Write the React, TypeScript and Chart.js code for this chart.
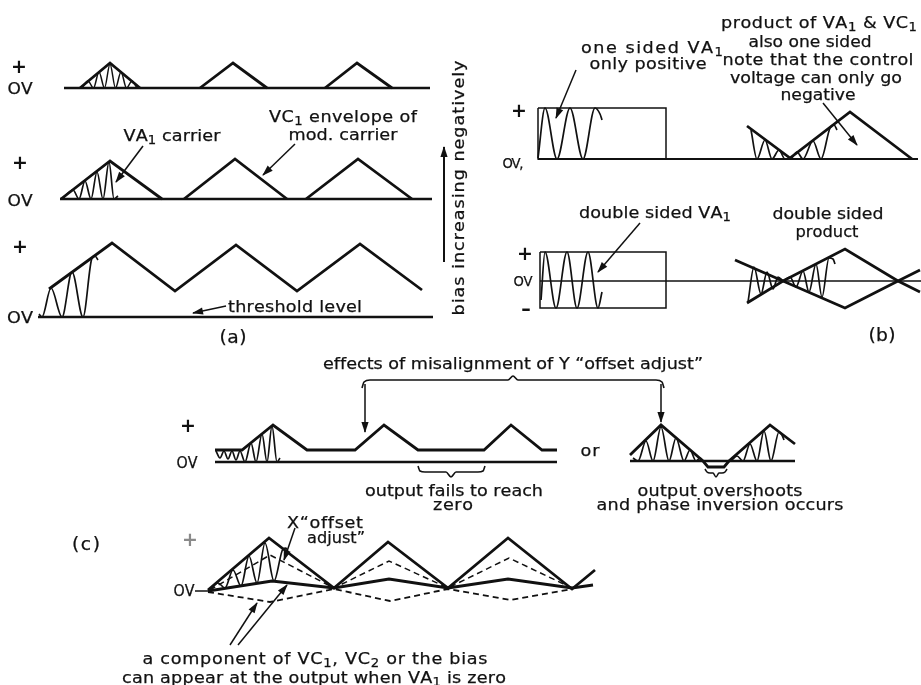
import { useEffect, useRef } from "react";
import { Chart, registerables } from "chart.js";

Chart.register(...registerables);

type Pt = [number, number];

// ---------------- panel (a) : figure units (x → time, y → level, page-like frame) ----------------
const aRow1Baseline: Pt[] = [[64, 88], [430, 88]];
const aRow1Envelopes: Pt[][] = [
  [[80, 88], [110, 63], [140, 88]],
  [[200, 88], [233, 63], [267, 88]],
  [[325, 88], [357, 63], [392, 88]],
];
const aRow1Carrier: Pt[] = [[82, 88], [88, 81], [93.5, 88], [99, 72], [104.5, 88], [110, 64], [115.5, 88], [121, 72], [126.5, 88], [132, 81], [137, 88]];

const aRow2Baseline: Pt[] = [[60, 199], [432, 199]];
const aRow2Envelopes: Pt[][] = [
  [[61, 199], [110, 161], [162, 199]],
  [[184, 199], [235, 159], [287, 199]],
  [[306, 199], [358, 159], [412, 199]],
];
const aRow2Carrier: Pt[] = [[62, 199], [73, 190], [79, 199], [85, 181], [91, 199], [97, 172], [103, 199], [109, 162], [114, 199], [118, 196]];

const aRow3Baseline: Pt[] = [[38, 317], [433, 317]];
const aRow3Envelope: Pt[] = [[49, 289], [112, 243], [175, 291], [236, 245], [297, 291], [360, 244], [422, 290]];
const aRow3Carrier: Pt[] = [[39, 314], [42, 317], [51, 288], [62, 317], [72, 272], [83, 317], [92, 258], [95, 256], [98, 260]];

const aArrowCarrier: Pt[] = [[143, 146], [116, 182]];
const aArrowEnvelope: Pt[] = [[295, 144], [263, 175]];
const aArrowThreshold: Pt[] = [[226, 306], [193, 313]];
const aArrowBias: Pt[] = [[444, 262], [444, 147]];

// ---------------- panel (b) ----------------
const bRectOne: Pt[] = [[538, 108], [666, 108], [666, 159], [538, 159], [538, 108]];
const bBaseOne: Pt[] = [[538, 159], [918, 159]];
const bCarrierOne: Pt[] = [[538, 158], [545, 108], [557, 159], [570, 108], [583, 159], [595, 108], [600, 114], [602, 120]];
const bProductOneEnv: Pt[] = [[747, 126], [790, 158], [850, 112], [912, 159]];
const bProductOneCarrier: Pt[] = [[751, 130], [757, 159], [765, 140], [772, 159], [779, 150], [785, 159], [790, 159], [797, 152], [803, 159], [813, 141], [821, 159], [830, 128], [834, 125], [837, 130]];
const bArrowOne: Pt[] = [[576, 70], [556, 118]];
const bArrowProduct: Pt[] = [[823, 103], [857, 145]];

const bRectTwo: Pt[] = [[540, 252], [666, 252], [666, 308], [540, 308], [540, 252]];
const bBaseTwo: Pt[] = [[540, 281], [921, 281]];
const bCarrierTwo: Pt[] = [[541, 300], [545, 252], [556, 308], [567, 252], [577, 308], [588, 252], [598, 308], [602, 292]];
const bProductTwoUpper: Pt[] = [[735, 260], [783, 281], [845, 249], [898, 281], [920, 292]];
const bProductTwoLower: Pt[] = [[747, 303], [783, 281], [845, 308], [898, 281], [920, 270]];
const bProductTwoCarrierL: Pt[] = [[748, 302], [754, 267], [761, 294], [767, 272], [773, 289], [778, 277], [783, 281]];
const bProductTwoCarrierR: Pt[] = [[783, 281], [790, 277], [796, 287], [803, 271], [809, 292], [816, 264], [822, 297], [829, 258], [833, 259], [835, 264]];
const bArrowTwo: Pt[] = [[640, 223], [598, 272]];

// ---------------- panel (c) top ----------------
const cBaseA: Pt[] = [[215, 462], [557, 462]];
const cOutputA: Pt[] = [[215, 450], [242, 450], [273, 425], [307, 450], [355, 450], [384, 425], [418, 450], [484, 450], [511, 425], [542, 450], [557, 450]];
const cCarrierA: Pt[] = [[216, 451], [220, 458], [224, 451], [228, 459], [232, 451], [236, 460], [240, 451], [245, 462], [251, 443], [256, 462], [262, 434], [267, 462], [272, 426], [277, 462], [280, 458]];
const cBraceTop: Pt[] = [[362, 388], [364, 382], [370, 380], [508, 380], [513, 376], [518, 380], [656, 380], [662, 382], [664, 388]];
const cArrowLeft: Pt[] = [[365, 384], [365, 432]];
const cArrowRight: Pt[] = [[661, 384], [661, 422]];
const cBraceFails: Pt[] = [[418, 466], [420, 471], [425, 472], [446, 472], [451, 477], [456, 472], [478, 472], [483, 471], [485, 466]];

const cBaseB: Pt[] = [[630, 461], [795, 461]];
const cOutputB: Pt[] = [[630, 455], [661, 425], [703, 461], [708, 467], [724, 467], [729, 461], [770, 425], [795, 444]];
const cCarrierB1: Pt[] = [[633, 458], [638, 461], [646, 441], [653, 461], [661, 427], [669, 461], [676, 438], [684, 461], [690, 450], [696, 461], [700, 458], [703, 461]];
const cCarrierB2: Pt[] = [[731, 461], [737, 456], [743, 461], [750, 444], [757, 461], [764, 431], [771, 461], [779, 432], [782, 435], [784, 440]];
const cBraceOvershoot: Pt[] = [[705, 469], [707, 472], [710, 473], [713, 473], [716, 477], [719, 473], [722, 473], [725, 472], [727, 469]];

// ---------------- panel (c) bottom ----------------
const cZeroStub: Pt[] = [[195, 591], [210, 591]];
const cEnvelopeTop: Pt[] = [[208, 590], [269, 538], [334, 588], [388, 542], [448, 588], [508, 538], [572, 589], [595, 570]];
const cInnerDashed: Pt[] = [[210, 590], [270, 555], [334, 588], [389, 561], [448, 588], [509, 558], [572, 588]];
const cLowerSolid: Pt[] = [[208, 591], [272, 581], [334, 588], [389, 579], [448, 588], [508, 579], [572, 588], [593, 585]];
const cLowerDashed: Pt[] = [[208, 592], [270, 602], [334, 589], [390, 601], [448, 589], [510, 600], [572, 589]];
const cCarrierC: Pt[] = [[210, 590], [218, 583], [225, 588], [233, 570], [241, 586], [249, 556], [257, 583], [265, 543], [274, 581], [283, 549], [286, 548], [288, 552]];
const cArrowDashed: Pt[] = [[230, 645], [257, 603]];
const cArrowSolid: Pt[] = [[238, 645], [287, 585]];
const cArrowOffsetX: Pt[] = [[295, 528], [284, 560]];

// ---------------- text ----------------
type Label = { t: string; x: number; y: number; w?: number; s?: number; rot?: boolean; color?: string; bold?: boolean };
const labels: Label[] = [
  { t: "+", x: 19, y: 66, s: 19, bold: true },
  { t: "OV", x: 20, y: 88, w: 25 },
  { t: "+", x: 20, y: 162, s: 19, bold: true },
  { t: "OV", x: 20, y: 200, w: 25 },
  { t: "+", x: 20, y: 246, s: 19, bold: true },
  { t: "OV", x: 20, y: 317, w: 26 },
  { t: "VA_1 carrier", x: 172, y: 135, w: 97 },
  { t: "VC_1 envelope of", x: 343, y: 116, w: 148 },
  { t: "mod. carrier", x: 343, y: 134, w: 109 },
  { t: "threshold level", x: 295, y: 306, w: 134 },
  { t: "(a)", x: 233, y: 337, w: 27, s: 17 },
  { t: "bias increasing negatively", x: 458, y: 188, w: 255, rot: true },

  { t: "product of VA_1 & VC_1", x: 819, y: 22, w: 196 },
  { t: "also one sided", x: 810, y: 41, w: 123 },
  { t: "note that the control", x: 818, y: 59, w: 191 },
  { t: "voltage can only go", x: 816, y: 77, w: 172 },
  { t: "negative", x: 818, y: 94, w: 75 },
  { t: "one sided VA_1", x: 652, y: 47, w: 142 },
  { t: "only positive", x: 648, y: 63, w: 117 },
  { t: "+", x: 519, y: 110, s: 19, bold: true },
  { t: "OV,", x: 513, y: 163, w: 21, s: 14 },
  { t: "double sided VA_1", x: 655, y: 212, w: 152 },
  { t: "double sided", x: 828, y: 213, w: 111 },
  { t: "product", x: 827, y: 231, w: 63 },
  { t: "+", x: 525, y: 253, s: 19, bold: true },
  { t: "OV", x: 523, y: 281, w: 19, s: 14 },
  { t: "\u2013", x: 526, y: 308, s: 19, bold: true },
  { t: "(b)", x: 882, y: 335, w: 27, s: 17 },

  { t: "effects of misalignment of Y \u201Coffset adjust\u201D", x: 513, y: 363, w: 380 },
  { t: "+", x: 188, y: 425, s: 19, bold: true },
  { t: "OV", x: 187, y: 463, w: 21, s: 15 },
  { t: "or", x: 590, y: 450, w: 19 },
  { t: "output fails to reach", x: 454, y: 490, w: 178 },
  { t: "zero", x: 453, y: 504, w: 40 },
  { t: "output overshoots", x: 720, y: 490, w: 165 },
  { t: "and phase inversion occurs", x: 720, y: 504, w: 247 },

  { t: "(c)", x: 86, y: 544, w: 28, s: 17 },
  { t: "+", x: 190, y: 539, s: 19, color: "#8a8a8a", bold: true },
  { t: "OV", x: 184, y: 591, w: 21, s: 15 },
  { t: "X\u201Coffset", x: 325, y: 522, w: 76 },
  { t: "adjust\u201D", x: 336, y: 537, w: 58 },
  { t: "a component of VC_1, VC_2 or the bias", x: 315, y: 658, w: 345 },
  { t: "can appear at the output when VA_1 is zero", x: 314, y: 677, w: 384 },
];

const INK = "#111";
const FONT = '"DejaVu Sans", sans-serif';

function seg(data: Pt[], width: number, extra: Record<string, unknown> = {}) {
  return {
    data: data.map(([x, y]) => ({ x, y })),
    showLine: true,
    borderColor: INK,
    backgroundColor: INK,
    borderWidth: width,
    pointRadius: 0,
    pointHoverRadius: 0,
    fill: false,
    tension: 0,
    clip: false,
    borderJoinStyle: "miter",
    ...extra,
  };
}
const wave = (d: Pt[], w = 1.7) => seg(d, w, { cubicInterpolationMode: "monotone", borderJoinStyle: "round" });
const arrow = (d: Pt[], w = 1.5) => seg(d, w, { arrow: true });
const dashed = (d: Pt[], w = 1.6) => seg(d, w, { borderDash: [6, 4] });

const THICK = 2.8;

const arrowPlugin = {
  id: "arrowHeads",
  afterDatasetsDraw(chart: any) {
    const ctx = chart.ctx as CanvasRenderingContext2D;
    chart.data.datasets.forEach((ds: any, i: number) => {
      if (!ds.arrow) return;
      const pts = chart.getDatasetMeta(i).data;
      const a = pts[pts.length - 2];
      const b = pts[pts.length - 1];
      const ang = Math.atan2(b.y - a.y, b.x - a.x);
      const L = 10;
      const W = 3.6;
      const c = Math.cos(ang);
      const s = Math.sin(ang);
      ctx.save();
      ctx.fillStyle = INK;
      ctx.beginPath();
      ctx.moveTo(b.x + c * 1, b.y + s * 1);
      ctx.lineTo(b.x - L * c + W * s, b.y - L * s - W * c);
      ctx.lineTo(b.x - L * c - W * s, b.y - L * s + W * c);
      ctx.closePath();
      ctx.fill();
      ctx.restore();
    });
  },
};

const labelPlugin = {
  id: "figureLabels",
  afterDraw(chart: any) {
    const ctx = chart.ctx as CanvasRenderingContext2D;
    const xs = chart.scales.x;
    const ys = chart.scales.y;
    labels.forEach((lab) => {
      const size = lab.s ?? 16;
      const tokens: { c: string; sub: boolean }[] = [];
      for (let i = 0; i < lab.t.length; i++) {
        if (lab.t[i] === "_" && i + 1 < lab.t.length) {
          tokens.push({ c: lab.t[i + 1], sub: true });
          i++;
        } else tokens.push({ c: lab.t[i], sub: false });
      }
      const weight = lab.bold ? "bold " : "";
      const mainFont = `${weight}${size}px ${FONT}`;
      const subFont = `${Math.round(size * 0.75)}px ${FONT}`;
      const widths = tokens.map((tk) => {
        ctx.font = tk.sub ? subFont : mainFont;
        return ctx.measureText(tk.c).width;
      });
      const natural = widths.reduce((p, q) => p + q, 0);
      // slightly widen the glyphs (wide geometric lettering), the rest as spacing
      let sx = lab.w ? lab.w / natural : 1;
      sx = Math.max(0.94, Math.min(1.1, sx));
      const gap = lab.w && tokens.length > 1 ? (lab.w - natural * sx) / (tokens.length - 1) / sx : 0;
      const total = natural + gap * (tokens.length - 1);
      ctx.save();
      ctx.translate(xs.getPixelForValue(lab.x), ys.getPixelForValue(lab.y));
      if (lab.rot) ctx.rotate(-Math.PI / 2);
      ctx.scale(sx, 1);
      ctx.fillStyle = lab.color ?? INK;
      ctx.strokeStyle = lab.color ?? INK;
      ctx.lineWidth = 0.25;
      ctx.textBaseline = "alphabetic";
      let x = -total / 2;
      const base = size * 0.36;
      tokens.forEach((tk, k) => {
        ctx.font = tk.sub ? subFont : mainFont;
        const yy = tk.sub ? base + size * 0.22 : base;
        ctx.fillText(tk.c, x, yy);
        if (!lab.bold) ctx.strokeText(tk.c, x, yy);
        x += widths[k] + gap;
      });
      ctx.restore();
    });
  },
};

const bgPlugin = {
  id: "paper",
  beforeDraw(chart: any) {
    const ctx = chart.ctx as CanvasRenderingContext2D;
    ctx.save();
    ctx.fillStyle = "#ffffff";
    ctx.fillRect(0, 0, chart.width, chart.height);
    ctx.restore();
  },
};

export default function App() {
  const ref = useRef<HTMLCanvasElement>(null);
  useEffect(() => {
    if (!ref.current) return;
    const datasets: any[] = [
      seg(aRow1Baseline, 2.4),
      ...aRow1Envelopes.map((e) => seg(e, THICK)),
      wave(aRow1Carrier, 1.5),
      seg(aRow2Baseline, 2.4),
      ...aRow2Envelopes.map((e) => seg(e, THICK)),
      wave(aRow2Carrier),
      seg(aRow3Baseline, 2.4),
      seg(aRow3Envelope, THICK),
      wave(aRow3Carrier),
      arrow(aArrowCarrier),
      arrow(aArrowEnvelope),
      arrow(aArrowThreshold),
      arrow(aArrowBias, 2),

      seg(bRectOne, 1.5),
      seg(bBaseOne, 1.8),
      wave(bCarrierOne),
      seg(bProductOneEnv, THICK),
      wave(bProductOneCarrier),
      arrow(bArrowOne),
      arrow(bArrowProduct),
      seg(bRectTwo, 1.5),
      seg(bBaseTwo, 1.5),
      wave(bCarrierTwo),
      seg(bProductTwoUpper, THICK),
      seg(bProductTwoLower, THICK),
      wave(bProductTwoCarrierL),
      wave(bProductTwoCarrierR),
      arrow(bArrowTwo),

      seg(cBaseA, 2.4),
      seg(cOutputA, THICK),
      wave(cCarrierA),
      wave(cBraceTop, 1.6),
      arrow(cArrowLeft),
      arrow(cArrowRight),
      wave(cBraceFails, 1.6),
      seg(cBaseB, 2.4),
      seg(cOutputB, THICK),
      wave(cCarrierB1),
      wave(cCarrierB2),
      wave(cBraceOvershoot, 1.6),

      seg(cZeroStub, 1.5),
      seg(cEnvelopeTop, THICK),
      dashed(cInnerDashed, 1.5),
      seg(cLowerSolid, THICK),
      dashed(cLowerDashed, 1.8),
      wave(cCarrierC),
      arrow(cArrowDashed),
      arrow(cArrowSolid),
      arrow(cArrowOffsetX),
    ];
    const chart = new Chart(ref.current, {
      type: "scatter",
      data: { datasets },
      options: {
        responsive: false,
        animation: false,
        events: [],
        layout: { padding: 0 },
        plugins: { legend: { display: false }, tooltip: { enabled: false } },
        scales: {
          x: { type: "linear", min: 0, max: 921, display: false },
          y: { type: "linear", min: 0, max: 685, reverse: true, display: false },
        },
      },
      plugins: [bgPlugin, arrowPlugin, labelPlugin],
    } as any);
    return () => chart.destroy();
  }, []);
  return (
    <div style={{ position: "fixed", left: 0, top: 0, width: 921, height: 685, background: "#fff" }}>
      <canvas ref={ref} width={921} height={685} style={{ display: "block", width: 921, height: 685 }} />
    </div>
  );
}
